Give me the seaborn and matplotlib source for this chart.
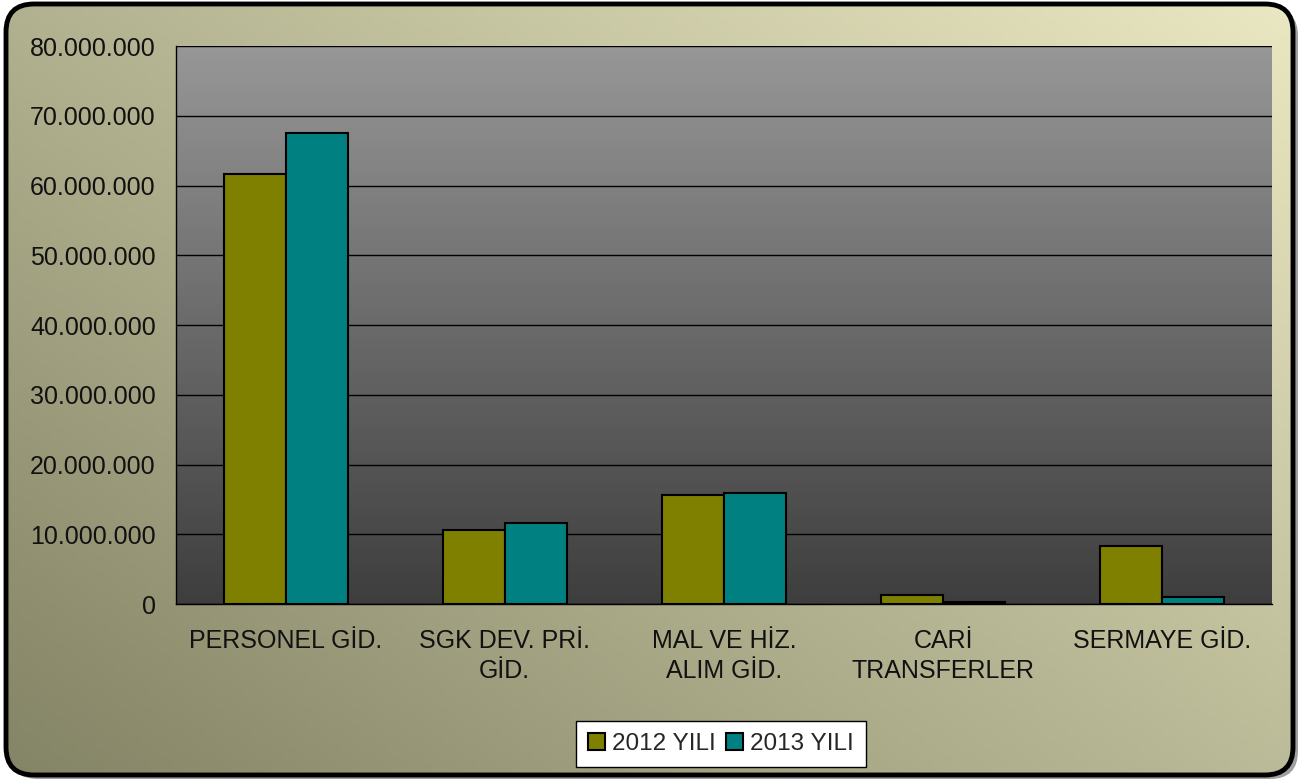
import numpy as np
import pandas as pd
import matplotlib
matplotlib.use("Agg")
import matplotlib.pyplot as plt
import seaborn as sns
from matplotlib.patches import FancyBboxPatch
from matplotlib.ticker import FuncFormatter, FixedLocator

# veriler
kategoriler = ["PERSONEL GİD.", "SGK DEV. PRİ.\nGİD.", "MAL VE HİZ.\nALIM GİD.", "CARİ\nTRANSFERLER", "SERMAYE GİD."]
yil_2012 = [61650000, 10550000, 15600000, 1330000, 8300000]
yil_2013 = [67500000, 11650000, 15900000, 250000, 1050000]
seriler = ["2012 YILI", "2013 YILI"]
renkler = ["#808000", "#008080"]

df = pd.DataFrame({
    "kategori": kategoriler * 2,
    "deger": yil_2012 + yil_2013,
    "yil": [seriler[0]] * 5 + [seriler[1]] * 5,
})

sns.set_style("white")
plt.rcParams["font.family"] = ["Liberation Sans", "DejaVu Sans"]

fig = plt.figure(figsize=(13.14, 7.81), dpi=100)
fig.patch.set_facecolor("white")

# arka plan: yuvarlak kenarli gradyan kutu
bg = fig.add_axes([0, 0, 1, 1], zorder=-10)
bg.axis("off")
xx, yy = np.meshgrid(np.linspace(0, 1, 200), np.linspace(0, 1, 200))
t = np.clip(0.55 * xx + 0.45 * (1 - yy), 0, 1)
c0 = np.array([0x84, 0x84, 0x66]) / 255
c1 = np.array([0xea, 0xe8, 0xc2]) / 255
img = c0[None, None, :] * (1 - t[..., None]) + c1[None, None, :] * t[..., None]
im = bg.imshow(img, extent=[6, 1293, 775, 4], origin="upper", aspect="auto", zorder=1)
shadow = FancyBboxPatch((10, 8), 1288, 771, boxstyle="round,pad=0,rounding_size=28",
                        fc="#a0a0a0", ec="none", zorder=0)
bg.add_patch(shadow)
box = FancyBboxPatch((6, 4), 1287, 771, boxstyle="round,pad=0,rounding_size=28",
                     fc="none", ec="black", lw=3.5, zorder=2)
bg.add_patch(box)
im.set_clip_path(box)
bg.set_xlim(0, 1314)
bg.set_ylim(781, 0)

# grafik alani
ax = fig.add_axes([176 / 1314, 1 - 604 / 781, (1272 - 176) / 1314, (604 - 46) / 781])
ax.patch.set_alpha(0)

sns.barplot(data=df, x="kategori", y="deger", hue="yil", palette=renkler,
            width=0.565, edgecolor="black", linewidth=1.5, ax=ax, zorder=3,
            saturation=1)

grad = np.linspace(0, 1, 256)[:, None]
gcol = np.array([0x97, 0x97, 0x97]) / 255 * (1 - grad[..., None]) + np.array([0x3e, 0x3e, 0x3e]) / 255 * grad[..., None]
ax.imshow(gcol, extent=[-0.5, 4.5, 0, 80000000], origin="upper", aspect="auto", zorder=0)
ax.set_xlim(-0.5, 4.5)
ax.set_ylim(0, 80000000)

ax.set_yticks(np.arange(0, 80000001, 10000000))
ax.yaxis.set_major_formatter(FuncFormatter(lambda v, p: f"{int(v):,}".replace(",", ".")))
ax.grid(axis="y", color="black", lw=1)
for gl in ax.get_ygridlines():
    gl.set_zorder(1)
ax.set_xlabel("")
ax.set_ylabel("")

ax.set_xticks(range(5))
ax.set_xticklabels(kategoriler, linespacing=1.32, va="top")
ax.tick_params(axis="x", which="major", length=0, labelsize=18, pad=18, labelcolor="#111111")
ax.xaxis.set_minor_locator(FixedLocator([-0.5, 0.5, 1.5, 2.5, 3.5, 4.5]))
ax.tick_params(axis="x", which="minor", length=6, width=1, color="black", direction="out")
ax.tick_params(axis="y", length=6, width=1, color="black", direction="out", labelsize=18, pad=8.5,
               labelcolor="#111111")

for s in ["top", "right"]:
    ax.spines[s].set_visible(False)
for s in ["left", "bottom"]:
    ax.spines[s].set_color("black")
    ax.spines[s].set_linewidth(1)

leg = ax.legend(loc="center", bbox_to_anchor=(0.497, -0.251), ncol=2, frameon=True,
                fontsize=17.5, handlelength=0.7, handleheight=0.7, handletextpad=0.3,
                columnspacing=0.4, borderpad=0.5, fancybox=False)
leg.get_frame().set_edgecolor("black")
leg.get_frame().set_linewidth(1)
leg.get_frame().set_facecolor("white")
leg.get_frame().set_alpha(1)

fig.savefig("out.png", dpi=100)
